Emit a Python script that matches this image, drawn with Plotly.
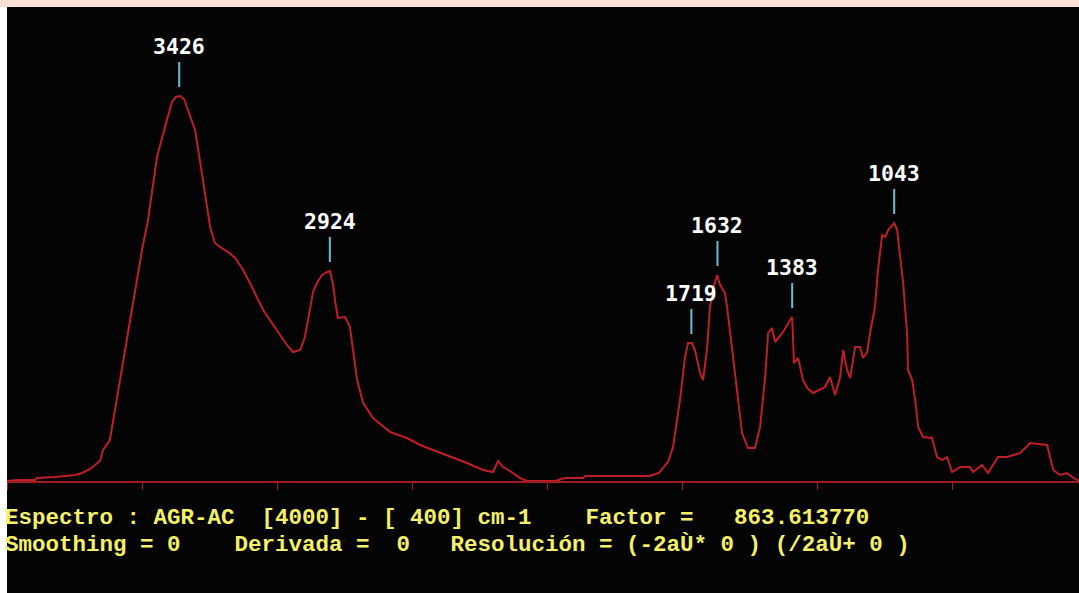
import plotly.graph_objects as go

# Spectrum trace (wavenumber cm-1, intensity in arbitrary units)
wavenumber = [4000, 3963, 3907, 3900, 3840, 3807, 3773, 3750, 3730, 3723, 3690, 3680, 3657, 3640, 3623,
              3600, 3573, 3550, 3530, 3500, 3467, 3450, 3437, 3423, 3410, 3400, 3373, 3347, 3323, 3307,
              3290, 3263, 3240, 3217, 3190, 3163, 3140, 3117, 3090, 3067, 3047, 3023, 3007, 2990, 2980,
              2967, 2950, 2933, 2923, 2913, 2907, 2897, 2883, 2873, 2857, 2847, 2833, 2813, 2780, 2723,
              2667, 2623, 2533, 2467, 2413, 2380, 2363, 2347, 2323, 2290, 2267, 2173, 2140, 2080, 2073,
              1857, 1827, 1797, 1780, 1757, 1740, 1730, 1717, 1707, 1690, 1680, 1667, 1657, 1643, 1633,
              1623, 1607, 1600, 1590, 1567, 1550, 1530, 1507, 1490, 1473, 1463, 1450, 1440, 1413, 1390,
              1383, 1377, 1363, 1347, 1333, 1313, 1290, 1273, 1257, 1240, 1223, 1213, 1200, 1190, 1173,
              1157, 1147, 1133, 1123, 1107, 1097, 1083, 1073, 1063, 1043, 1033, 1023, 1013, 1007, 1000,
              997, 983, 973, 963, 947, 917, 900, 883, 867, 850, 823, 790, 780, 750, 730,
              697, 667, 623, 590, 547, 533, 513, 490, 467, 450, 427, 400]
intensity = [0, 1, 1, 3, 4, 5, 6, 8, 11, 12, 20, 31, 41, 71, 101,
             141, 191, 231, 261, 324, 361, 379, 384, 385, 382, 374, 351, 301, 254, 238,
             234, 229, 223, 213, 198, 181, 168, 158, 146, 136, 129, 131, 144, 174, 189,
             198, 206, 209, 210, 196, 181, 163, 164, 164, 154, 131, 101, 78, 63, 49,
             43, 36, 26, 18, 11, 9, 20, 14, 10, 3, 0, 0, 3, 3, 5,
             5, 8, 19, 34, 81, 124, 138, 138, 131, 108, 101, 131, 174, 196, 206,
             196, 188, 174, 148, 91, 48, 33, 33, 54, 104, 148, 153, 139, 149, 161,
             164, 118, 123, 101, 93, 88, 91, 94, 104, 86, 104, 131, 111, 103, 134,
             134, 123, 129, 149, 174, 211, 246, 244, 251, 258, 251, 224, 198, 174, 148,
             111, 101, 81, 54, 44, 43, 24, 21, 24, 9, 14, 14, 9, 16, 8,
             24, 24, 28, 38, 36, 36, 11, 6, 8, 4, 0, 0]

# Labelled peaks
peak_labels = ["3426", "2924", "1719", "1632", "1383", "1043"]
peak_wn = [3426, 2924, 1719, 1632, 1383, 1043]
peak_val = [385, 210, 138, 206, 164, 258]

# Axis ticks (cm-1)
tick_wn = [4000, 3550, 3100, 2650, 2200, 1750, 1300, 850, 400]

info_line1 = "Espectro : AGR-AC  [4000] - [ 400] cm-1    Factor =   863.613770"
info_line2 = "Smoothing = 0    Derivada =  0   Resolución = (-2aÙ* 0 ) (/2aÙ+ 0 )"

RED = "#bd1f27"
AXIS_RED = "#a01a1e"
CYAN = "#66bfd0"
YELLOW = "#f4f06a"
BLACK = "#040404"

fig = go.Figure()
fig.add_trace(go.Scatter(x=wavenumber, y=intensity, mode="lines",
                         line=dict(color=RED, width=2), hoverinfo="skip", showlegend=False))

shapes = []
annotations = []
for lab, wn, v in zip(peak_labels, peak_wn, peak_val):
    shapes.append(dict(type="line", xref="x", yref="y", x0=wn, x1=wn, y0=v + 9, y1=v + 34,
                       line=dict(color=CYAN, width=2)))
    annotations.append(dict(xref="x", yref="y", x=wn, y=v + 50, text=lab, showarrow=False,
                            xanchor="center", yanchor="middle",
                            font=dict(family="DejaVu Sans Mono", size=21.5, color="white",
                                      weight="bold")))

# frame strips (pink top, white left)
shapes.append(dict(type="rect", xref="paper", yref="paper", x0=-0.2, x1=1.2, y0=1, y1=1.2,
                   fillcolor="#fde0d6", line=dict(width=0), layer="below"))
shapes.append(dict(type="rect", xref="paper", yref="paper", x0=-0.2, x1=0, y0=-0.5, y1=1,
                   fillcolor="white", line=dict(width=0), layer="below"))

nb = "\u00a0"
for txt, ypx in [(info_line1, 518), (info_line2, 545)]:
    annotations.append(dict(xref="paper", yref="paper", x=-3 / 1072, y=(481 - ypx) / 474,
                            text=txt.replace(" ", nb), showarrow=False,
                            xanchor="left", yanchor="middle", borderpad=0,
                            font=dict(family="Liberation Mono", size=22.5, color=YELLOW,
                                      weight="bold")))

fig.update_layout(
    width=1079, height=593,
    margin=dict(l=7, r=0, t=7, b=112, pad=0),
    paper_bgcolor=BLACK, plot_bgcolor=BLACK,
    xaxis=dict(range=[4000, 427], showgrid=False, zeroline=False, showticklabels=False,
               tickvals=tick_wn, ticks="outside", ticklen=7, tickwidth=1, tickcolor=AXIS_RED,
               showline=True, linecolor=AXIS_RED, linewidth=2),
    yaxis=dict(range=[0, 474], visible=False),
    shapes=shapes, annotations=annotations,
)

fig.write_html("out.html", config={"displayModeBar": False},
               post_script="document.body.style.margin='0';document.body.style.overflow='hidden';")
